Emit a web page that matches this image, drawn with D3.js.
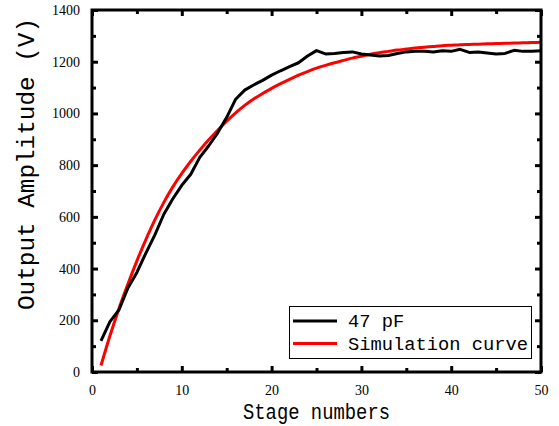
<!DOCTYPE html>
<html>
<head>
<meta charset="utf-8">
<script src="https://cdn.jsdelivr.net/npm/d3@7"></script>
<style>
  body { margin: 0; background: #fff; }
  svg { display: block; }
  .tick text { font-family: "Liberation Serif", serif; font-size: 14px; fill: #000; }
  .mono { font-family: "Liberation Mono", monospace; fill: #000; }
</style>
</head>
<body>
<svg id="chart" width="559" height="426"></svg>
<script>
// stage index 1..50
const stages = d3.range(1, 51);

const measured = [120, 195, 240, 325, 385, 460, 530, 610, 670, 722,
  765, 830, 875, 925, 985, 1055, 1090, 1110, 1128, 1148,
  1165, 1181, 1196, 1222, 1243, 1230, 1232, 1236, 1238, 1230,
  1226, 1222, 1224, 1232, 1238, 1240, 1240, 1238, 1242, 1240,
  1248, 1236, 1238, 1234, 1230, 1232, 1244, 1240, 1240, 1242];

// simulation curve
const simulated = [25, 140, 245, 340, 430, 512, 588, 656, 716, 768,
  815, 858, 898, 935, 970, 1002, 1031, 1056, 1077, 1097,
  1115, 1132, 1148, 1162, 1175, 1186, 1196, 1205, 1214, 1221,
  1229, 1235, 1240, 1245, 1249, 1253, 1256, 1259, 1262, 1264,
  1266, 1267, 1268, 1269, 1270, 1271, 1272, 1273, 1274, 1275];

const xTicks = [0, 10, 20, 30, 40, 50];
const yTicks = [0, 200, 400, 600, 800, 1000, 1200, 1400];

const seriesNames = ["47 pF", "Simulation curve"];
const seriesColors = ["#000000", "#ff0000"];

const margin = {top: 10, right: 18, bottom: 54, left: 92};
const width = 559, height = 426;

let svg = d3.select("#chart");

let x = d3.scaleLinear().domain([0, 50]).range([margin.left, width - margin.right]);
let y = d3.scaleLinear().domain([0, 1400]).range([height - margin.bottom, margin.top]);

let plotW = x(50) - x(0), plotH = y(0) - y(1400);

// minor ticks first (short, inward)
function minorTicks(axis, vals, size) {
  return axis.tickValues(vals).tickSize(size).tickFormat("");
}
const xMinor = d3.range(5, 50, 10);
const yMinor = d3.range(100, 1400, 200);

svg.append("g").attr("transform", `translate(0,${y(0)})`)
  .call(minorTicks(d3.axisBottom(x), xMinor, -4));
svg.append("g").attr("transform", `translate(0,${y(1400)})`)
  .call(minorTicks(d3.axisTop(x), xMinor, -4));
svg.append("g").attr("transform", `translate(${x(0)},0)`)
  .call(minorTicks(d3.axisLeft(y), yMinor, -4));
svg.append("g").attr("transform", `translate(${x(50)},0)`)
  .call(minorTicks(d3.axisRight(y), yMinor, -4));

// major ticks
svg.append("g").attr("class", "xaxis").attr("transform", `translate(0,${y(0)})`)
  .call(d3.axisBottom(x).tickValues(xTicks).tickSize(-6).tickPadding(13).tickFormat(d3.format("d")));
svg.append("g").attr("transform", `translate(0,${y(1400)})`)
  .call(d3.axisTop(x).tickValues(xTicks).tickSize(-6).tickFormat(""));
svg.append("g").attr("class", "yaxis").attr("transform", `translate(${x(0)},0)`)
  .call(d3.axisLeft(y).tickValues(yTicks).tickSize(-6).tickPadding(12).tickFormat(d3.format("d")));
svg.append("g").attr("transform", `translate(${x(50)},0)`)
  .call(d3.axisRight(y).tickValues(yTicks).tickSize(-6).tickFormat(""));

svg.selectAll(".domain").remove();
svg.selectAll(".tick line").attr("stroke", "#000").attr("stroke-width", 3);

// data lines
let clip = svg.append("clipPath").attr("id", "clip")
  .append("rect").attr("x", x(0)).attr("y", y(1400)).attr("width", plotW).attr("height", plotH);

let line = d3.line().x((d, i) => x(stages[i])).y(d => y(d));

svg.append("path").datum(simulated)
  .attr("clip-path", "url(#clip)")
  .attr("fill", "none").attr("stroke", seriesColors[1]).attr("stroke-width", 3)
  .attr("d", line.curve(d3.curveMonotoneX));

svg.append("path").datum(measured)
  .attr("clip-path", "url(#clip)")
  .attr("fill", "none").attr("stroke", seriesColors[0]).attr("stroke-width", 3)
  .attr("stroke-linejoin", "round")
  .attr("d", line.curve(d3.curveLinear));

// frame
svg.append("rect")
  .attr("x", x(0)).attr("y", y(1400)).attr("width", plotW).attr("height", plotH)
  .attr("fill", "none").attr("stroke", "#000").attr("stroke-width", 3);

// legend
let lg = svg.append("g");
lg.append("rect").attr("x", 289.5).attr("y", 306.5).attr("width", 242).attr("height", 52)
  .attr("fill", "#fff").attr("stroke", "#000").attr("stroke-width", 1);
seriesNames.forEach((name, i) => {
  let ly = 321 + i * 22.5;
  lg.append("line").attr("x1", 293).attr("x2", 337).attr("y1", ly).attr("y2", ly)
    .attr("stroke", seriesColors[i]).attr("stroke-width", 3);
  lg.append("text").attr("class", "mono").attr("x", 348).attr("y", ly + 6)
    .attr("font-size", 19)
    .attr("textLength", name.length * 11.25).attr("lengthAdjust", "spacingAndGlyphs")
    .text(name);
});

// axis titles
svg.append("text").attr("class", "mono")
  .attr("x", (x(0) + x(50)) / 2).attr("y", 419)
  .attr("text-anchor", "middle").attr("font-size", 22)
  .attr("textLength", 147).attr("lengthAdjust", "spacingAndGlyphs")
  .text("Stage numbers");

svg.append("text").attr("class", "mono")
  .attr("transform", "translate(34,164) rotate(-90)")
  .attr("text-anchor", "middle").attr("font-size", 24)
  .attr("textLength", 292).attr("lengthAdjust", "spacingAndGlyphs")
  .text("Output Amplitude (V)");
</script>
</body>
</html>
